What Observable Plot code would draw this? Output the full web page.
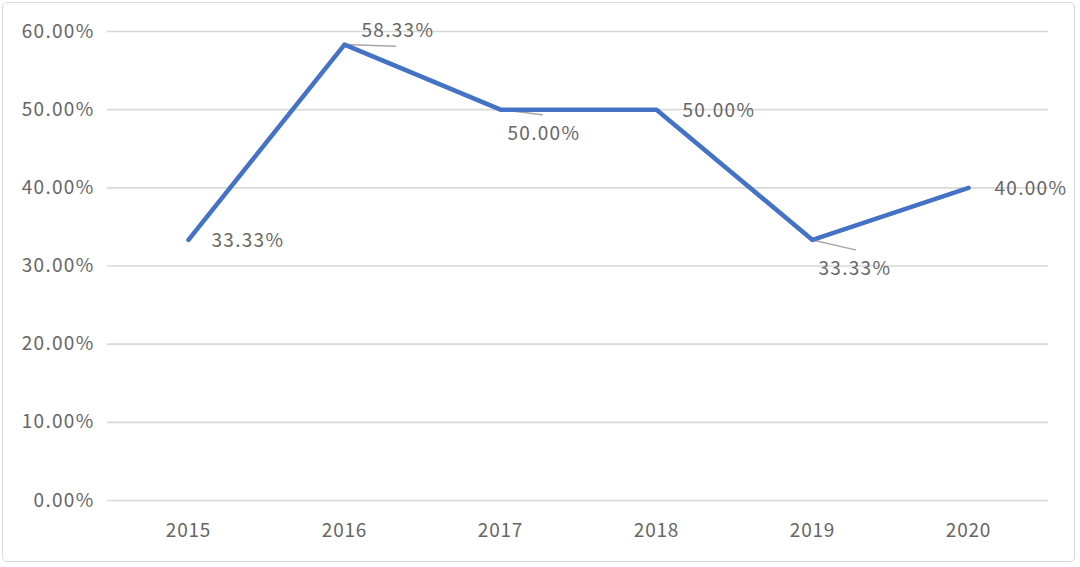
<!DOCTYPE html>
<html>
<head>
<meta charset="utf-8">
<script src="https://cdn.jsdelivr.net/npm/d3@7"></script>
<script src="https://cdn.jsdelivr.net/npm/@observablehq/plot@0.6"></script>
<style>
  html, body { margin: 0; padding: 0; background: #fff; }
  #wrap { position: relative; width: 1080px; height: 567px; overflow: hidden; }
  #frame { position: absolute; left: 2px; top: 2px; width: 1073px; height: 560px;
           border: 1.5px solid #d9d9d9; border-radius: 5px; box-sizing: border-box; }
  #chart { position: absolute; left: 0; top: 0; }
  #chart svg text { letter-spacing: 1.3px; }
  #chart svg g[aria-label="x-axis tick label"] text { letter-spacing: 0.8px; }
</style>
</head>
<body>
<div id="wrap"><div id="frame"></div><div id="chart"></div></div>
<script>
// Data
const years = ["2015", "2016", "2017", "2018", "2019", "2020"];
const rates = [0.3333, 0.5833, 0.5, 0.5, 0.3333, 0.4];
const yTicks = [0, 0.1, 0.2, 0.3, 0.4, 0.5, 0.6];

// Label placement (pixel offsets, style only)
const labelDx = [23, 17, 7, 26, 6, 26];
const labelDy = [1, -14, 24, 1, 29, 1];
const leaderLen = [0, 51, 42, 0, 44, 0];
const leaderAngle = [0, 92, 97, 0, 103, 0];

const data = years.map((y, i) => ({year: y, value: rates[i], i}));
const fmt = v => (v * 100).toFixed(2) + "%";
const font = "'Noto Sans CJK SC', 'Noto Sans', sans-serif";
const grey = "#666666";

const segShape = { draw(ctx, l) { ctx.moveTo(0, 0); ctx.lineTo(0, -l); } };

const labelMarks = data.map(d => Plot.text([d], {
  x: "year", y: "value", text: r => fmt(r.value),
  dx: labelDx[d.i], dy: labelDy[d.i], textAnchor: "start",
  fill: grey, fontSize: 19, fontFamily: font
}));

const chart = Plot.plot({
  width: 1080, height: 567,
  marginLeft: 107, marginRight: 32, marginTop: 31, marginBottom: 67,
  style: { fontFamily: font, background: "transparent", overflow: "visible" },
  x: { type: "point", domain: years, padding: 0.5, label: null },
  y: { domain: [0, 0.6], label: null },
  length: { type: "identity" },
  marks: [
    Plot.gridY(yTicks, { stroke: "#d9d9d9", strokeOpacity: 1, strokeWidth: 1.6 }),
    Plot.axisY(yTicks, { tickSize: 0, tickPadding: 13, tickFormat: fmt, fontSize: 19,
      fill: grey, fontFamily: font }),
    Plot.axisX({ tickSize: 0, tickPadding: 23, fontSize: 19, fill: grey, fontFamily: font }),
    Plot.vector(data.filter(d => leaderLen[d.i] > 0), {
      x: "year", y: "value", length: d => leaderLen[d.i], rotate: d => leaderAngle[d.i],
      anchor: "start", shape: segShape, stroke: "#a6a6a6", strokeWidth: 1.5
    }),
    Plot.line(data, { x: "year", y: "value", stroke: "#4472C4", strokeWidth: 4.5,
      strokeLinecap: "round", strokeLinejoin: "round" }),
    ...labelMarks
  ]
});
document.getElementById("chart").appendChild(chart);
</script>
</body>
</html>
